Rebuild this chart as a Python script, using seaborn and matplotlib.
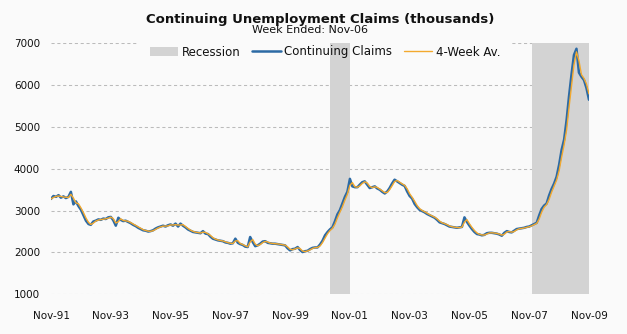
import matplotlib
matplotlib.use("Agg")
import matplotlib.pyplot as plt
from matplotlib.patches import Rectangle
import pandas as pd
import seaborn as sns

# Continuing claims, thousands, monthly from Nov-1991 to Nov-2009
claims = [
    3280, 3350, 3330, 3370, 3310, 3340, 3300, 3330, 3450, 3150, 3220, 3110,  # Nov91-Oct92
    3020, 2890, 2760, 2680, 2660, 2740, 2760, 2790, 2780, 2810, 2800, 2840,  # Nov92-Oct93
    2850, 2770, 2640, 2830, 2780, 2750, 2760, 2730, 2700, 2660, 2630, 2590,  # Nov93-Oct94
    2560, 2530, 2520, 2500, 2510, 2530, 2570, 2600, 2620, 2640, 2620, 2650,  # Nov94-Oct95
    2670, 2640, 2690, 2620, 2690, 2640, 2600, 2550, 2520, 2490, 2480, 2470,  # Nov95-Oct96
    2460, 2510, 2450, 2440, 2380, 2330, 2310, 2290, 2280, 2270, 2240, 2230,  # Nov96-Oct97
    2210, 2220, 2330, 2230, 2200, 2180, 2140, 2130, 2370, 2250, 2150, 2170,  # Nov97-Oct98
    2210, 2260, 2270, 2230, 2220, 2210, 2210, 2200, 2190, 2180, 2170, 2100,  # Nov98-Oct99
    2050, 2080, 2090, 2130, 2060, 2010, 2030, 2040, 2080, 2110, 2120, 2120,  # Nov99-Oct00
    2190, 2280, 2410, 2490, 2550, 2600, 2740, 2910, 3010, 3170, 3330, 3450,  # Nov00-Oct01
    3760, 3580, 3560, 3560, 3620, 3680, 3700, 3620, 3540, 3560, 3580, 3530,  # Nov01-Oct02
    3500, 3450, 3410, 3460, 3540, 3650, 3740, 3700, 3660, 3620, 3590, 3460,  # Nov02-Oct03
    3350, 3290, 3160, 3080, 3020, 2990, 2960, 2920, 2890, 2860, 2830, 2780,  # Nov03-Oct04
    2720, 2700, 2680, 2650, 2620, 2610, 2600, 2590, 2600, 2610, 2840, 2730,  # Nov04-Oct05
    2640, 2560, 2490, 2440, 2430, 2410, 2420, 2460, 2470, 2470, 2460, 2450,  # Nov05-Oct06
    2430, 2400, 2470, 2510, 2490, 2480, 2520, 2560, 2570, 2580, 2590, 2610,  # Nov06-Oct07
    2620, 2650, 2680, 2710, 2880, 3040, 3120, 3170, 3360, 3520, 3650, 3810,  # Nov07-Oct08
    4100, 4450, 4700, 5180, 5720, 6250, 6720, 6870, 6300, 6200, 6120, 5930,  # Nov08-Oct09
    5650,                                                                     # Nov09
]
start_month = "1991-11-01"

recessions = [("2001-03-01", "2001-11-01"), ("2007-12-01", "2009-11-01")]

tick_years = list(range(1991, 2010, 2))
tick_labels = ["Nov-91", "Nov-93", "Nov-95", "Nov-97", "Nov-99",
               "Nov-01", "Nov-03", "Nov-05", "Nov-07", "Nov-09"]
y_ticks = [1000, 2000, 3000, 4000, 5000, 6000, 7000]

title = "Continuing Unemployment Claims (thousands)"
subtitle = "Week Ended: Nov-06"

BG = "#fafafa"
BLUE = "#2c6aa4"
ORANGE = "#f3a92e"
GREY = "#d3d3d3"

dates = pd.date_range(start_month, periods=len(claims), freq="MS")
df = pd.DataFrame({"date": dates, "claims": claims})
df["avg"] = df["claims"].rolling(2, min_periods=1).mean()

sns.set_style("white")
plt.rcParams["font.family"] = ["DejaVu Sans"]

fig = plt.figure(figsize=(6.27, 3.34), dpi=100, facecolor=BG)
ax = fig.add_axes([51 / 627, 1 - 294.3 / 334, 538 / 627, 251 / 334])
ax.set_facecolor(BG)

for i, (a, b) in enumerate(recessions):
    ax.axvspan(pd.Timestamp(a), pd.Timestamp(b), color=GREY, lw=0, zorder=1,
               label="Recession" if i == 0 else None)

sns.lineplot(data=df, x="date", y="claims", ax=ax, color=BLUE, lw=1.8,
             label="Continuing Claims", zorder=3)
sns.lineplot(data=df, x="date", y="avg", ax=ax, color=ORANGE, lw=1.0,
             label="4-Week Av.", zorder=4)

ax.set_xlim(pd.Timestamp("1991-11-01"), pd.Timestamp("2009-11-01"))
ax.set_ylim(1000, 7000)
ax.set_yticks(y_ticks)
ax.set_yticklabels([str(v) for v in y_ticks])
ax.set_xticks([pd.Timestamp(f"{y}-11-01") for y in tick_years])
ax.set_xticklabels(tick_labels)
ax.set_xlabel("")
ax.set_ylabel("")
ax.tick_params(axis="y", length=0, pad=8, labelsize=7.5, colors="#111111")
ax.tick_params(axis="x", length=0, pad=12, labelsize=7.5, colors="#111111")
for s in ax.spines.values():
    s.set_visible(False)

ax.set_axisbelow(True)
ax.yaxis.grid(True, color="#bbbbbb", lw=0.75, linestyle=(0, (3, 2.6)), zorder=0.5)
ax.xaxis.grid(False)

leg = ax.legend(loc="center", bbox_to_anchor=(325 / 627, 1 - 52 / 334),
                bbox_transform=fig.transFigure, ncol=3, frameon=False,
                fontsize=8.5, handlelength=2.4, handletextpad=0.3,
                columnspacing=1.0, borderaxespad=0)
leg.set_zorder(6)
for t in leg.get_texts():
    t.set_color("#111111")

# plain backing behind the legend, under the recession shading
fig.canvas.draw()
bb = leg.get_window_extent()
ax.add_patch(Rectangle((bb.x0 - 8, bb.y0 - 3), bb.width + 14, bb.height + 12,
                       transform=None, facecolor=BG, edgecolor="none",
                       zorder=0.8, clip_on=False))

fig.text(320 / 627, 1 - 20 / 334, title, ha="center", va="center",
         fontsize=9.5, fontweight="bold", color="#111111")
fig.text(310 / 627, 1 - 30 / 334, subtitle, ha="center", va="center",
         fontsize=8, color="#111111")

fig.savefig("out.png", dpi=100, facecolor=BG)
